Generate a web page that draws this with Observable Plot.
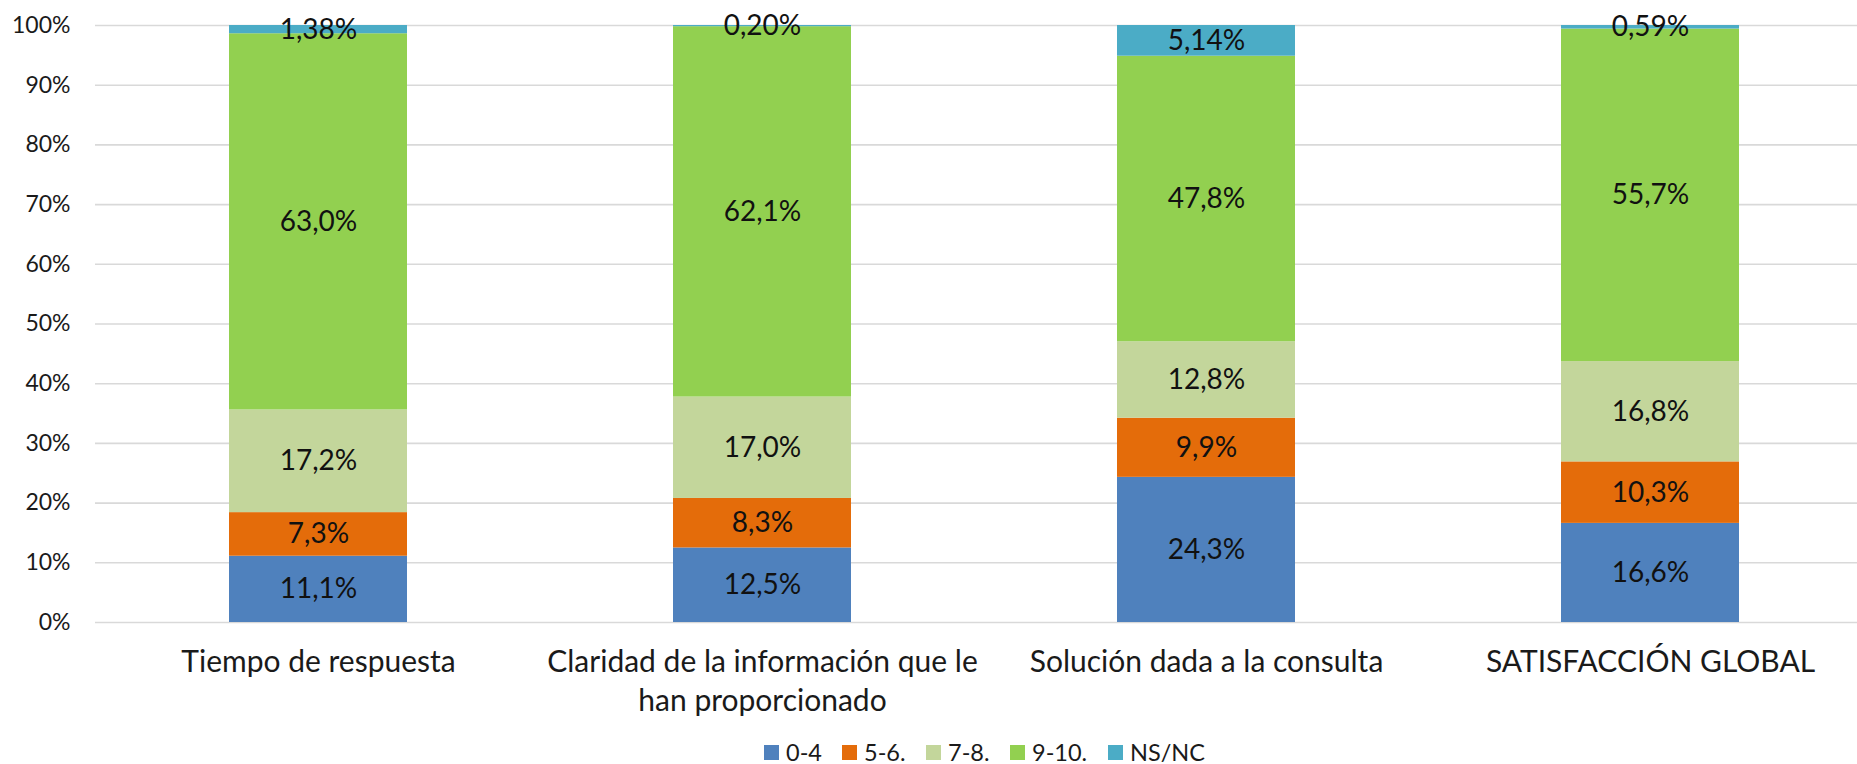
<!DOCTYPE html>
<html>
<head>
<meta charset="utf-8">
<script src="https://cdn.jsdelivr.net/npm/d3@7"></script>
<script src="https://cdn.jsdelivr.net/npm/@observablehq/plot@0.6"></script>
<style>
  html, body { margin: 0; padding: 0; background: #fff; overflow: hidden; }
  #wrap { position: relative; width: 1857px; height: 764px; font-family: Lato, "Open Sans", sans-serif; }
  #chart { position: absolute; left: 0; top: 0; }
  #legend { position: absolute; left: 0; top: 741px; width: 1857px; height: 22px; font-size: 23.5px; color: #1a1a1a; font-family: Lato, sans-serif; z-index: 2; line-height: 22px; }
  .item { position: absolute; top: 0; display: flex; align-items: center; height: 22px; }
  .sw { width: 15px; height: 15px; margin-right: 7px; }
</style>
</head>
<body>
<div id="wrap"><div id="chart"></div><div id="legend"></div></div>
<script>
const categories = [
  "Tiempo de respuesta",
  "Claridad de la información que le\nhan proporcionado",
  "Solución dada a la consulta",
  "SATISFACCIÓN GLOBAL"
];
const series = ["0-4", "5-6.", "7-8.", "9-10.", "NS/NC"];
const colors = ["#4F81BD", "#E46C0A", "#C3D69B", "#92D050", "#4BACC6"];
const v0_4   = [11.1, 12.5, 24.3, 16.6];
const v5_6   = [7.3, 8.3, 9.9, 10.3];
const v7_8   = [17.2, 17.0, 12.8, 16.8];
const v9_10  = [63.0, 62.1, 47.8, 55.7];
const vNSNC  = [1.38, 0.20, 5.14, 0.59];
const decimals = [1, 1, 1, 1, 2];
const yTicks = [0, 0.1, 0.2, 0.3, 0.4, 0.5, 0.6, 0.7, 0.8, 0.9, 1];

const allVals = [v0_4, v5_6, v7_8, v9_10, vNSNC];
const data = [];
series.forEach((s, si) => {
  categories.forEach((c, ci) => {
    const v = allVals[si][ci];
    data.push({cat: c, series: s, value: v,
      label: v.toFixed(decimals[si]).replace(".", ",") + "%"});
  });
});

const chart = Plot.plot({
  width: 1857,
  height: 764,
  marginLeft: 95,
  marginRight: 0,
  marginTop: 25,
  marginBottom: 142,
  style: {fontFamily: "Lato, 'Open Sans', sans-serif", background: "#fff", overflow: "hidden"},
  x: {domain: categories, range: [95, 1872], paddingInner: 0.6, paddingOuter: 0.3, label: null},
  y: {domain: [0, 1], label: null},
  color: {domain: series, range: colors},
  marks: [
    Plot.ruleY(yTicks, {stroke: "#D9D9D9", strokeWidth: 1.6}),
    Plot.barY(data, Plot.stackY({x: "cat", y: "value", z: "series", fill: "series", offset: "normalize", order: series})),
    Plot.text(data, Plot.stackY({x: "cat", y: "value", z: "series", text: "label", offset: "normalize", order: series, fontSize: 28, fill: "#111"})),
    Plot.axisY({ticks: yTicks, tickSize: 0, tickPadding: 25, fontSize: 23, fill: "#1a1a1a", tickFormat: d => Math.round(d * 100) + "%", label: null}),
    Plot.axisX({tickSize: 0, tickPadding: 22, fontSize: 30, lineHeight: 1.3, fill: "#1a1a1a", label: null})
  ]
});
document.getElementById("chart").appendChild(chart);

const legendLeft = [764, 842, 926, 1010, 1108];
const lg = document.getElementById("legend");
series.forEach((s, i) => {
  const it = document.createElement("div");
  it.className = "item";
  it.style.left = legendLeft[i] + "px";
  it.innerHTML = `<div class="sw" style="background:${colors[i]}"></div><span>${s}</span>`;
  lg.appendChild(it);
});
</script>
</body>
</html>
